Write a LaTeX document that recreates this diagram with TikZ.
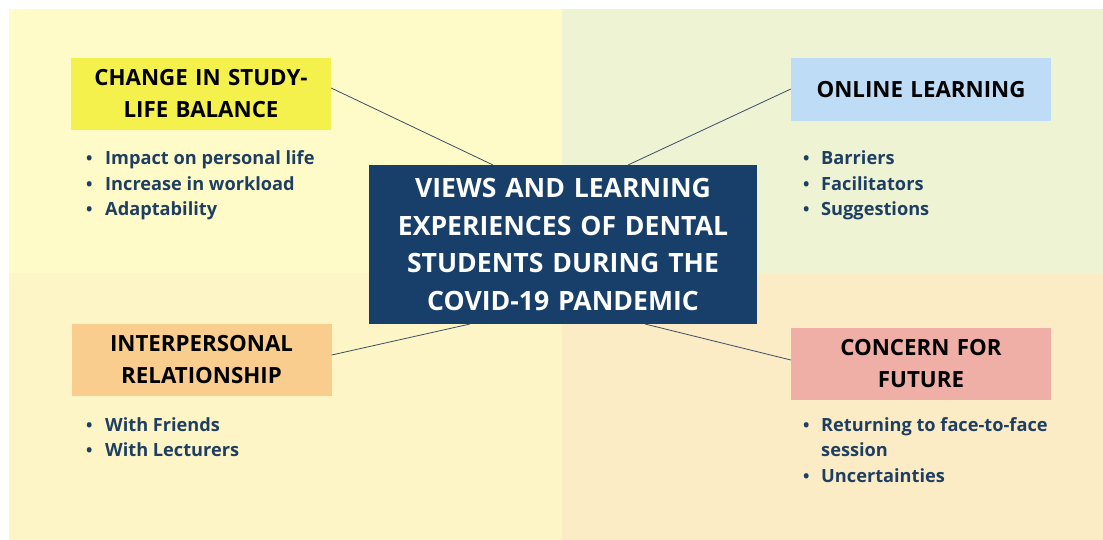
\documentclass[tikz,border=0pt]{standalone}
\usepackage{fontspec}
\setmainfont{Open Sans}
\definecolor{bgTL}{HTML}{FEFBC8}
\definecolor{bgTR}{HTML}{EEF3D4}
\definecolor{bgBL}{HTML}{FDF5C6}
\definecolor{bgBR}{HTML}{FBECC6}
\definecolor{navy}{HTML}{173F69}
\definecolor{itemblue}{HTML}{1E3F62}
\definecolor{hdyellow}{HTML}{F4F04C}
\definecolor{hdblue}{HTML}{BFDCF6}
\definecolor{hdorange}{HTML}{F8CD8E}
\definecolor{hdpink}{HTML}{EFAEA6}
\definecolor{linkcol}{HTML}{3C4E62}
\begin{document}
\begin{tikzpicture}[x=1pt,y=-1pt,
  hdbox/.style={fill=#1,draw=none,inner sep=0pt,minimum width=260pt,
    text width=250pt,align=center,font=\bfseries\fontsize{22.3}{32}\selectfont,
    text=black},
  hubbox/.style={fill=navy,draw=none,inner sep=0pt,minimum width=388pt,
    minimum height=159pt,text width=380pt,align=center,text=white,
    font=\bfseries\fontsize{26.6}{37.5}\selectfont},
  item/.style={anchor=base west,inner sep=0pt,text=itemblue,
    font=\bfseries\fontsize{18.2}{25}\selectfont},
  dot/.style={anchor=base west,inner sep=0pt,text=itemblue,
    font=\bfseries\fontsize{17}{25}\selectfont},
  link/.style={draw=linkcol,line width=0.8pt}]
\useasboundingbox (0,0) rectangle (1103,540);
% quadrant backgrounds
\fill[white] (0,0) rectangle (1103,540);
\fill[bgTL] (9,9) rectangle (562,273);
\fill[bgTR] (562,9) rectangle (1103,274);
\fill[bgBL] (9,273) rectangle (562,540);
\fill[bgBR] (562,274) rectangle (1103,540);

% central topic
\node[hubbox] (hub) at (563,244.5) {VIEWS AND LEARNING\\EXPERIENCES OF DENTAL\\STUDENTS DURING THE\\COVID-19 PANDEMIC};

% theme headers
\node[hdbox=hdyellow,minimum height=72pt] (study) at (201,94) {CHANGE IN STUDY-\\LIFE BALANCE};
\node[hdbox=hdblue,minimum height=63pt] (online) at (921,89.5) {ONLINE LEARNING};
\node[hdbox=hdorange,minimum height=72pt] (inter) at (201.5,360) {INTERPERSONAL\\RELATIONSHIP};
\node[hdbox=hdpink,minimum height=72pt] (concern) at (921,364) {CONCERN FOR\\FUTURE};

% connectors to the central topic
\coordinate (hubTL) at (493,165);
\coordinate (hubTR) at (628,165);
\coordinate (hubBL) at (470,324);
\coordinate (hubBR) at (645,324);
\draw[link] (study.east |- 0,88) -- (hubTL);
\draw[link] (online.west |- 0,89) -- (hubTR);
\draw[link] (inter.east |- 0,355) -- (hubBL);
\draw[link] (concern.west |- 0,360) -- (hubBR);

% sub-themes
\node[dot] (b1) at (86,165) {\textbullet};
\node[item] (i1) at (105,165) {Impact on personal life};
\node[dot] (b2) at (86,190.5) {\textbullet};
\node[item] (i2) at (105,190.5) {Increase in workload};
\node[dot] (b3) at (86,216) {\textbullet};
\node[item] (i3) at (105,216) {Adaptability};

\node[dot] (b4) at (803,165) {\textbullet};
\node[item] (i4) at (821,165) {Barriers};
\node[dot] (b5) at (803,190.5) {\textbullet};
\node[item] (i5) at (821,190.5) {Facilitators};
\node[dot] (b6) at (803,216) {\textbullet};
\node[item] (i6) at (821,216) {Suggestions};

\node[dot] (b7) at (86,431) {\textbullet};
\node[item] (i7) at (105,431) {With Friends};
\node[dot] (b8) at (86,456.5) {\textbullet};
\node[item] (i8) at (105,456.5) {With Lecturers};

\node[dot] (b9) at (803,431) {\textbullet};
\node[item] (i9) at (821,431) {Returning to face-to-face};
\node[item] (i10) at (821,456.5) {session};
\node[dot] (b11) at (803,482) {\textbullet};
\node[item] (i11) at (821,482) {Uncertainties};
\end{tikzpicture}
\end{document}
